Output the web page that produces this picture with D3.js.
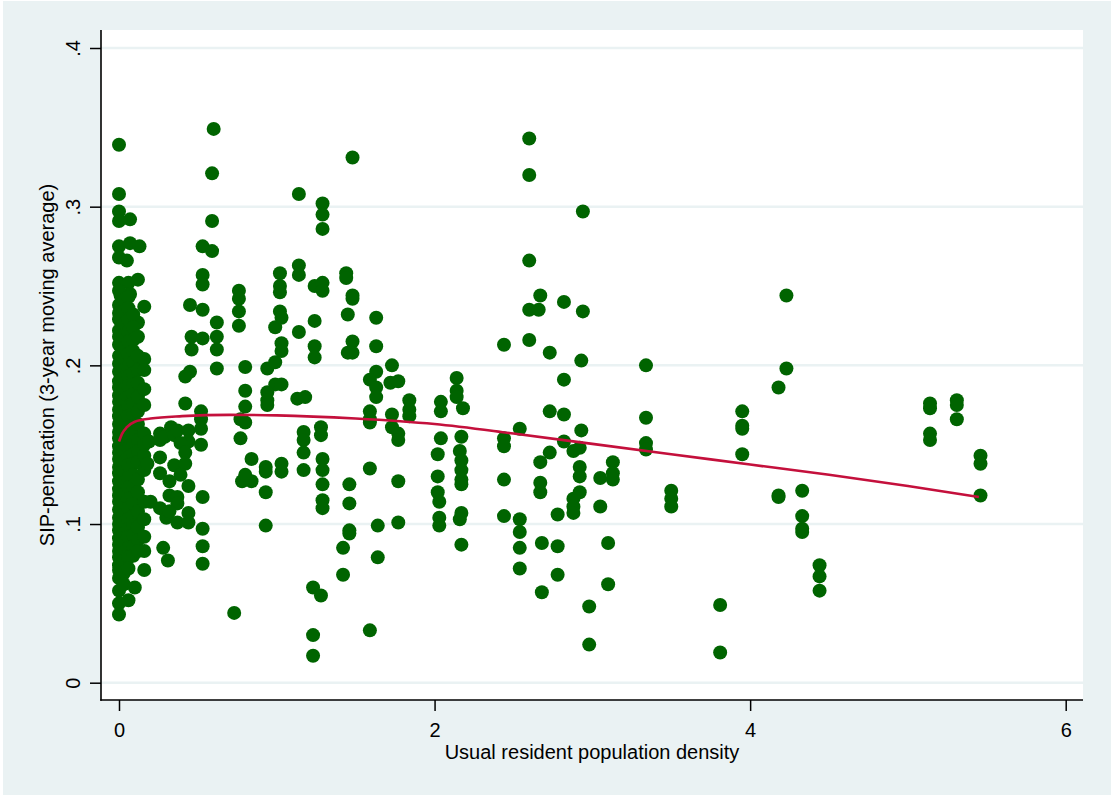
<!DOCTYPE html>
<html>
<head>
<meta charset="utf-8">
<script src="https://cdn.jsdelivr.net/npm/d3@7"></script>
<style>
  html, body { margin: 0; padding: 0; background: #ffffff; }
  svg { display: block; font-family: "Liberation Sans", Arial, sans-serif; }
</style>
</head>
<body>
<svg id="chart" width="1111" height="795"></svg>
<script>
// Usual resident population density (x) vs SIP-penetration, 3-year moving average (y)

// Areas with density below about 0.2
const lowDensity = [
  [0.00,.339],[0.00,.308],[0.00,.297],[0.00,.291],[0.07,.292],[0.00,.275],[0.07,.277],[0.13,.275],
  [0.00,.268],[0.05,.266],[0.00,.252],[0.06,.252],[0.12,.254],[0.01,.244],[0.07,.245],[0.16,.237],[0.12,.227],
  [0.00,.247],[0.00,.238],[0.00,.233],[0.00,.229],[0.00,.222],[0.00,.218],[0.00,.213],[0.00,.206],
  [0.00,.201],[0.00,.196],[0.00,.190],[0.00,.186],[0.00,.181],[0.00,.177],[0.00,.172],[0.00,.168],
  [0.00,.163],[0.00,.158],[0.00,.154],[0.00,.149],[0.00,.145],[0.00,.141],[0.00,.136],[0.00,.132],
  [0.00,.127],[0.00,.122],[0.00,.118],[0.00,.114],[0.00,.109],[0.00,.104],[0.00,.100],[0.00,.096],
  [0.00,.091],[0.00,.087],[0.00,.083],[0.00,.079],[0.00,.074],[0.00,.071],[0.00,.066],[0.00,.058],
  [0.00,.050],[0.00,.043],
  [0.03,.241],[0.03,.234],[0.03,.226],[0.03,.219],[0.03,.211],[0.03,.204],[0.03,.197],[0.03,.192],
  [0.03,.185],[0.03,.178],[0.03,.171],[0.03,.165],[0.03,.159],[0.03,.152],[0.03,.146],[0.03,.139],
  [0.03,.133],[0.03,.126],[0.03,.119],[0.03,.112],[0.03,.106],[0.03,.101],[0.03,.094],[0.03,.088],
  [0.03,.082],[0.03,.077],[0.03,.069],[0.03,.062],
  [0.06,.243],[0.06,.236],[0.06,.229],[0.06,.221],[0.06,.215],[0.06,.207],[0.06,.199],[0.06,.193],
  [0.06,.187],[0.06,.180],[0.06,.174],[0.06,.168],[0.06,.161],[0.06,.155],[0.06,.148],[0.06,.142],
  [0.06,.137],[0.06,.129],[0.06,.123],[0.06,.116],[0.06,.110],[0.06,.103],[0.06,.097],[0.06,.092],
  [0.06,.085],[0.06,.079],[0.06,.072],[0.06,.052],
  [0.09,.232],[0.09,.224],[0.09,.216],[0.09,.209],[0.09,.202],[0.09,.195],[0.09,.188],[0.09,.182],
  [0.09,.176],[0.09,.169],[0.09,.162],[0.09,.156],[0.09,.150],[0.09,.144],[0.09,.138],[0.09,.131],
  [0.09,.124],[0.09,.117],[0.09,.113],[0.09,.105],[0.09,.099],[0.09,.093],[0.09,.086],[0.09,.080],[0.10,.060],
  [0.12,.218],[0.12,.206],[0.12,.197],[0.12,.189],[0.12,.180],[0.12,.171],[0.12,.163],[0.12,.153],
  [0.12,.146],[0.12,.139],[0.12,.128],[0.12,.120],[0.12,.108],[0.12,.098],[0.12,.090],[0.12,.083],
  [0.16,.204],[0.16,.197],[0.16,.185],[0.16,.175],[0.16,.157],[0.16,.150],[0.16,.143],[0.16,.134],
  [0.16,.114],[0.16,.103],[0.16,.092],[0.16,.083],[0.16,.071],[0.18,.138],[0.19,.152],[0.20,.114]
];

// Areas with density between about 0.2 and 2.2
const midDensity = [
  [0.26,.157],[0.26,.153],[0.29,.155],[0.33,.161],[0.35,.156],[0.37,.159],[0.44,.159],[0.44,.152],
  [0.39,.151],[0.42,.145],[0.26,.142],[0.35,.137],[0.42,.138],[0.26,.132],[0.39,.131],[0.32,.127],
  [0.44,.124],[0.32,.118],[0.37,.117],[0.26,.110],[0.37,.113],[0.30,.104],[0.37,.101],[0.44,.107],
  [0.44,.101],[0.32,.108],[0.28,.085],[0.31,.077],
  [0.42,.176],[0.45,.196],[0.42,.193],[0.46,.218],[0.46,.210],[0.45,.238],
  [0.53,.275],[0.53,.257],[0.53,.251],[0.53,.235],[0.53,.217],[0.52,.171],[0.52,.166],[0.52,.160],
  [0.52,.150],[0.53,.117],[0.53,.097],[0.53,.086],[0.53,.075],
  [0.60,.349],[0.59,.321],[0.59,.291],[0.59,.272],[0.62,.227],[0.62,.218],[0.62,.210],[0.62,.198],
  [0.73,.044],
  [0.76,.247],[0.76,.242],[0.76,.234],[0.76,.225],[0.80,.199],[0.80,.184],[0.80,.174],[0.77,.166],
  [0.80,.164],[0.77,.154],[0.84,.141],[0.78,.127],[0.84,.127],[0.80,.131],
  [0.94,.198],[0.99,.202],[0.99,.188],[0.94,.183],[0.94,.178],[0.94,.175],[0.93,.136],[0.93,.133],
  [0.93,.120],[0.93,.099],[0.99,.224],
  [1.02,.258],[1.02,.250],[1.02,.246],[1.02,.234],[1.03,.230],[1.03,.214],[1.03,.209],[1.03,.188],
  [1.03,.138],[1.03,.133],
  [1.14,.308],[1.14,.263],[1.14,.257],[1.14,.221],[1.13,.179],[1.18,.180],[1.17,.158],[1.17,.153],
  [1.17,.145],[1.17,.134],
  [1.29,.302],[1.29,.295],[1.29,.286],[1.24,.250],[1.29,.252],[1.29,.247],[1.24,.228],[1.24,.212],
  [1.24,.205],[1.28,.161],[1.28,.156],[1.29,.141],[1.29,.134],[1.29,.125],[1.29,.115],[1.29,.110],
  [1.23,.060],[1.28,.055],[1.23,.030],[1.23,.017],
  [1.48,.331],[1.44,.258],[1.44,.255],[1.48,.244],[1.48,.242],[1.45,.232],[1.48,.215],[1.45,.208],
  [1.48,.208],[1.46,.125],[1.46,.113],[1.46,.096],[1.46,.094],[1.42,.085],[1.42,.068],
  [1.63,.230],[1.63,.212],[1.63,.196],[1.59,.191],[1.63,.186],[1.63,.180],[1.59,.171],[1.59,.166],
  [1.59,.164],[1.59,.135],[1.64,.099],[1.64,.079],[1.59,.033],
  [1.73,.200],[1.72,.189],[1.77,.190],[1.84,.178],[1.84,.172],[1.84,.168],[1.73,.169],[1.73,.161],
  [1.77,.157],[1.77,.153],[1.77,.127],[1.77,.101],
  [2.04,.177],[2.04,.171],[2.04,.154],[2.02,.144],[2.02,.130],[2.02,.120],[2.03,.114],[2.03,.104],[2.03,.099],
  [2.14,.192],[2.14,.184],[2.14,.180],[2.18,.173],[2.17,.155],[2.16,.146],[2.17,.140],[2.17,.134],
  [2.17,.128],[2.17,.125],[2.17,.107],[2.16,.103],[2.17,.087]
];

// Areas with density above about 2.4
const highDensity = [
  [2.44,.213],[2.44,.154],[2.44,.149],[2.44,.128],[2.44,.105],
  [2.54,.160],[2.54,.103],[2.54,.095],[2.54,.085],[2.54,.072],
  [2.60,.343],[2.60,.320],[2.60,.266],[2.60,.235],[2.60,.216],
  [2.67,.244],[2.66,.235],[2.67,.139],[2.67,.126],[2.67,.120],[2.68,.088],[2.68,.057],
  [2.73,.208],[2.73,.171],[2.73,.145],
  [2.78,.106],[2.78,.086],[2.78,.068],
  [2.82,.240],[2.82,.191],[2.82,.169],[2.82,.152],
  [2.88,.146],[2.88,.116],[2.88,.111],[2.88,.107],
  [2.94,.297],[2.94,.234],[2.93,.203],[2.93,.159],[2.92,.148],[2.92,.136],[2.92,.130],[2.92,.120],
  [2.98,.048],[2.98,.024],
  [3.05,.129],[3.05,.111],
  [3.13,.139],[3.13,.132],[3.13,.128],[3.10,.088],[3.10,.062],
  [3.34,.200],[3.34,.167],[3.34,.151],[3.34,.147],
  [3.50,.121],[3.50,.116],[3.50,.111],
  [3.81,.049],[3.81,.019],
  [3.95,.171],[3.95,.162],[3.95,.160],[3.95,.144],
  [4.18,.186],[4.18,.118],[4.18,.117],
  [4.23,.244],[4.23,.198],
  [4.33,.121],[4.33,.105],[4.33,.097],[4.33,.095],
  [4.44,.074],[4.44,.067],[4.44,.058],
  [5.14,.176],[5.14,.173],[5.14,.157],[5.14,.153],
  [5.31,.178],[5.31,.175],[5.31,.166],
  [5.46,.143],[5.46,.138],[5.46,.118]
];

// Smoothed fit
const fitX = [0.00, 0.02, 0.05, 0.10, 0.20, 0.40, 0.70, 1.00, 1.50, 2.00, 2.50, 3.00, 3.50, 4.00, 4.50, 5.00, 5.45];
const fitY = [.152, .157, .161, .1645, .1665, .168, .1688, .1685, .1665, .163, .157, .1505, .144, .1375, .131, .124, .117];

const yTicks = [0, .1, .2, .3, .4];
const yTickLabels = ["0", ".1", ".2", ".3", ".4"];
const xTicks = [0, 2, 4, 6];
const xTickLabels = ["0", "2", "4", "6"];

const xTitle = "Usual resident population density";
const yTitle = "SIP-penetration (3-year moving average)";

const svg = d3.select("#chart");
const W = 1111, H = 795;
const plot = { left: 101, top: 30, right: 1083, bottom: 700 };

const bg = "#eaf2f3";
const markerColor = "#006400";
const lineColor = "#c4103c";

svg.append("rect").attr("x", 3).attr("y", 1).attr("width", W - 3).attr("height", H - 1).attr("fill", bg);
svg.append("rect")
  .attr("x", plot.left).attr("y", plot.top)
  .attr("width", plot.right - plot.left).attr("height", plot.bottom - plot.top)
  .attr("fill", "#ffffff");

const x = d3.scaleLinear().domain([0, 6]).range([119, 1065.7]);
const y = d3.scaleLinear().domain([0, 0.4]).range([682.7, 48]);

// horizontal grid
svg.append("g").selectAll("line").data(yTicks).join("line")
  .attr("x1", plot.left).attr("x2", plot.right)
  .attr("y1", d => y(d)).attr("y2", d => y(d))
  .attr("stroke", bg).attr("stroke-width", 2.5);

// scatter
const allPoints = lowDensity.concat(midDensity, highDensity);
svg.append("g").selectAll("circle").data(allPoints).join("circle")
  .attr("cx", d => x(d[0])).attr("cy", d => y(d[1]))
  .attr("r", 7)
  .attr("fill", markerColor);

// fitted line
const line = d3.line().x(d => x(d[0])).y(d => y(d[1])).curve(d3.curveMonotoneX);
svg.append("path")
  .datum(fitX.map((v, i) => [v, fitY[i]]))
  .attr("d", line)
  .attr("fill", "none")
  .attr("stroke", lineColor)
  .attr("stroke-width", 2.6)
  .attr("stroke-linejoin", "round");

// y axis
const yAxis = d3.axisLeft(y).tickValues(yTicks)
  .tickFormat((d, i) => yTickLabels[i]).tickSize(11).tickPadding(0);
const gy = svg.append("g").attr("transform", `translate(${plot.left},0)`).call(yAxis);
gy.select(".domain").remove();
gy.selectAll(".tick line").attr("stroke", "#000").attr("stroke-width", 1.5);
gy.selectAll(".tick text")
  .attr("x", null).attr("dy", null)
  .attr("transform", "rotate(-90)")
  .attr("x", 0).attr("y", -21)
  .attr("text-anchor", "middle")
  .attr("font-size", 20)
  .attr("font-family", "'Liberation Sans', Arial, sans-serif")
  .attr("fill", "#000");

// x axis
const xAxis = d3.axisBottom(x).tickValues(xTicks)
  .tickFormat((d, i) => xTickLabels[i]).tickSize(11).tickPadding(0);
const gx = svg.append("g").attr("transform", `translate(0,${plot.bottom})`).call(xAxis);
gx.select(".domain").remove();
gx.selectAll(".tick line").attr("stroke", "#000").attr("stroke-width", 1.5);
gx.selectAll(".tick text")
  .attr("dy", null).attr("y", 36.7)
  .attr("font-size", 20)
  .attr("font-family", "'Liberation Sans', Arial, sans-serif")
  .attr("fill", "#000");

// axis lines spanning the plot region
svg.append("line")
  .attr("x1", plot.left).attr("x2", plot.left)
  .attr("y1", plot.top).attr("y2", plot.bottom + 0.75)
  .attr("stroke", "#000").attr("stroke-width", 1.6);
svg.append("line")
  .attr("x1", plot.left - 0.75).attr("x2", plot.right)
  .attr("y1", plot.bottom).attr("y2", plot.bottom)
  .attr("stroke", "#000").attr("stroke-width", 1.6);

// titles
svg.append("text")
  .attr("x", (plot.left + plot.right) / 2).attr("y", 759)
  .attr("text-anchor", "middle").attr("font-size", 20).attr("fill", "#000")
  .text(xTitle);
svg.append("text")
  .attr("transform", `translate(54,${(plot.top + plot.bottom) / 2}) rotate(-90)`)
  .attr("text-anchor", "middle").attr("font-size", 20).attr("fill", "#000")
  .text(yTitle);
</script>
</body>
</html>
